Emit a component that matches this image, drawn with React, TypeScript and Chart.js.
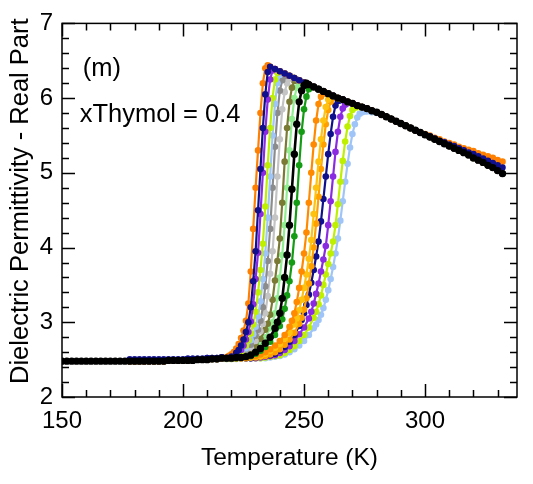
import React, { useEffect, useRef } from 'react';
import { Chart, registerables } from 'chart.js';

Chart.register(...registerables);

// ---------- shared baseline (low-temperature plateau) ----------
const BASE_T = [150, 152, 154, 156, 158, 160, 162, 164, 166, 168, 170, 172, 174, 176, 178, 180, 182, 184, 186, 188, 190, 192, 194, 196, 198, 200, 202, 204, 206, 208, 210, 212, 214, 216];
const BASE_V = [2.48, 2.48, 2.48, 2.48, 2.48, 2.48, 2.48, 2.48, 2.48, 2.48, 2.48, 2.48, 2.48, 2.48, 2.48, 2.48, 2.48, 2.48, 2.48, 2.48, 2.48, 2.48, 2.49, 2.49, 2.49, 2.49, 2.49, 2.49, 2.5, 2.5, 2.5, 2.51, 2.51, 2.52];
const BASE_V_HI = [2.5, 2.5, 2.5, 2.5, 2.5, 2.5, 2.5, 2.5, 2.5, 2.5, 2.5, 2.5, 2.5, 2.5, 2.5, 2.5, 2.5, 2.5, 2.5, 2.5, 2.5, 2.5, 2.5, 2.5, 2.5, 2.5, 2.51, 2.51, 2.51, 2.51, 2.52, 2.52, 2.52, 2.53];

// ---------- shared high-temperature branch ----------
const TAIL_T = [236, 238, 240, 242, 244, 246, 248, 250, 252, 254, 256, 258, 260, 262, 264, 266, 268, 270, 272, 274, 276, 278, 280, 282, 284, 286, 288, 290, 292, 294, 296, 298];
const TAIL_V = [6.42, 6.39, 6.36, 6.33, 6.3, 6.27, 6.24, 6.21, 6.18, 6.15, 6.12, 6.09, 6.06, 6.03, 6.0, 5.98, 5.95, 5.93, 5.9, 5.88, 5.86, 5.83, 5.81, 5.78, 5.75, 5.72, 5.69, 5.66, 5.63, 5.6, 5.57, 5.54];

const END_T = [300, 302, 304, 306, 308, 310, 312, 314, 316, 318, 320, 322, 324, 326, 328, 330, 332];
const END_V_BLACK = [5.51, 5.48, 5.45, 5.42, 5.39, 5.36, 5.33, 5.3, 5.27, 5.24, 5.2, 5.17, 5.14, 5.1, 5.07, 5.03, 4.99];
const END_V_ORANGE = [5.52, 5.5, 5.47, 5.45, 5.42, 5.4, 5.38, 5.35, 5.33, 5.31, 5.29, 5.26, 5.24, 5.22, 5.2, 5.17, 5.15];
const END_V_NAVY = [5.51, 5.49, 5.46, 5.43, 5.41, 5.38, 5.36, 5.33, 5.3, 5.27, 5.25, 5.22, 5.19, 5.16, 5.13, 5.1, 5.07];

// ---------- transitions of each series ----------
const S01_T = [218, 219, 220, 221, 222, 223, 224, 225, 226, 227, 228, 229, 230, 231, 232, 233, 234, 235];
const S01_V = [2.53, 2.55, 2.57, 2.6, 2.65, 2.71, 2.79, 2.89, 3.02, 3.25, 3.68, 4.25, 4.8, 5.3, 5.8, 6.2, 6.4, 6.44];

const S02_T = [218, 220, 222, 223, 224, 225, 226, 227, 228, 229, 230, 231, 232, 233, 234, 235];
const S02_V = [2.52, 2.54, 2.59, 2.63, 2.69, 2.77, 2.87, 3.0, 3.2, 3.55, 3.95, 4.5, 5.05, 5.6, 6.05, 6.35];

const S03_T = [218, 220, 222, 224, 225, 226, 227, 228, 229, 230, 231, 232, 233, 234, 235, 236, 237];
const S03_V = [2.52, 2.53, 2.57, 2.63, 2.69, 2.77, 2.87, 3.01, 3.24, 3.58, 3.93, 4.45, 5.0, 5.55, 5.98, 6.25, 6.37];

const S04_T = [218, 220, 222, 224, 226, 227, 228, 229, 230, 231, 232, 233, 234, 235, 236, 237, 238, 239];
const S04_V = [2.52, 2.53, 2.55, 2.6, 2.69, 2.76, 2.85, 2.97, 3.14, 3.4, 3.7, 4.05, 4.55, 5.1, 5.6, 6.0, 6.25, 6.34];

const S05_T = [218, 220, 222, 224, 226, 228, 229, 230, 231, 232, 233, 234, 235, 236, 237, 238, 239, 240, 241];
const S05_V = [2.52, 2.53, 2.54, 2.58, 2.65, 2.76, 2.84, 2.94, 3.08, 3.28, 3.58, 3.92, 4.4, 4.95, 5.5, 5.92, 6.2, 6.31, 6.34];

const S06_T = [218, 220, 222, 224, 226, 228, 230, 231, 232, 233, 234, 235, 236, 237, 238, 239, 240, 241, 242, 243];
const S06_V = [2.52, 2.52, 2.53, 2.56, 2.62, 2.7, 2.82, 2.9, 3.02, 3.2, 3.48, 3.82, 4.25, 4.8, 5.35, 5.8, 6.1, 6.24, 6.29, 6.31];

const S07_T = [218, 220, 222, 224, 226, 228, 230, 232, 233, 234, 235, 236, 237, 238, 239, 240, 241, 242, 243, 244, 245];
const S07_V = [2.52, 2.52, 2.53, 2.55, 2.59, 2.66, 2.75, 2.88, 2.98, 3.12, 3.35, 3.65, 3.95, 4.4, 4.95, 5.45, 5.85, 6.08, 6.2, 6.26, 6.28];

const S08_T = [218, 220, 222, 224, 226, 228, 230, 232, 234, 235, 236, 237, 238, 239, 240, 241, 242, 243, 244, 245, 246, 247];
const S08_V = [2.52, 2.52, 2.53, 2.54, 2.57, 2.62, 2.69, 2.78, 2.9, 2.98, 3.1, 3.3, 3.56, 3.82, 4.12, 4.6, 5.15, 5.6, 5.95, 6.14, 6.23, 6.25];

const S09_T = [218, 220, 222, 224, 226, 228, 230, 232, 234, 236, 237, 238, 239, 240, 241, 242, 243, 244, 245, 246, 247, 248, 249];
const S09_V = [2.52, 2.52, 2.53, 2.54, 2.55, 2.59, 2.64, 2.71, 2.8, 2.92, 3.0, 3.12, 3.32, 3.6, 3.9, 4.3, 4.8, 5.3, 5.72, 6.0, 6.14, 6.2, 6.22];

const S10_T = [218, 220, 222, 224, 226, 228, 230, 232, 234, 236, 238, 239, 240, 241, 242, 243, 244, 245, 246, 247, 248, 249, 250, 251];
const S10_V = [2.52, 2.52, 2.53, 2.53, 2.54, 2.56, 2.6, 2.65, 2.72, 2.8, 2.92, 3.0, 3.12, 3.32, 3.6, 3.9, 4.3, 4.78, 5.25, 5.65, 5.95, 6.1, 6.17, 6.2];

const S11_T = [218, 220, 222, 224, 226, 228, 230, 232, 234, 236, 238, 240, 241, 242, 243, 244, 245, 246, 247, 248, 249, 250, 251, 252, 253];
const S11_V = [2.52, 2.52, 2.52, 2.53, 2.54, 2.55, 2.58, 2.62, 2.67, 2.74, 2.83, 2.95, 3.04, 3.18, 3.36, 3.55, 3.8, 4.15, 4.6, 5.1, 5.55, 5.85, 6.02, 6.12, 6.15];

const S12_T = [218, 220, 222, 224, 226, 228, 230, 232, 234, 236, 238, 240, 242, 244, 245, 246, 247, 248, 249, 250, 251, 252, 253, 254, 255, 256, 257, 258, 259];
const S12_V = [2.52, 2.52, 2.52, 2.53, 2.53, 2.54, 2.55, 2.57, 2.6, 2.64, 2.69, 2.75, 2.83, 2.94, 3.02, 3.12, 3.27, 3.46, 3.68, 3.92, 4.2, 4.6, 5.0, 5.38, 5.7, 5.92, 6.02, 6.06, 6.07];

const S13_T = [218, 220, 222, 224, 226, 228, 230, 232, 234, 236, 238, 240, 242, 244, 246, 247, 248, 249, 250, 251, 252, 253, 254, 255, 256, 257, 258, 259, 260, 261];
const S13_V = [2.52, 2.52, 2.52, 2.52, 2.53, 2.53, 2.54, 2.55, 2.58, 2.62, 2.66, 2.71, 2.78, 2.86, 2.97, 3.05, 3.16, 3.3, 3.46, 3.64, 3.85, 4.1, 4.45, 4.8, 5.15, 5.45, 5.7, 5.88, 5.98, 6.03];

const S14_T = [218, 220, 222, 224, 226, 228, 230, 232, 234, 236, 238, 240, 242, 244, 246, 248, 249, 250, 251, 252, 253, 254, 255, 256, 257, 258, 259, 260, 261, 262, 263];
const S14_V = [2.52, 2.52, 2.52, 2.52, 2.52, 2.53, 2.53, 2.54, 2.55, 2.57, 2.6, 2.64, 2.7, 2.77, 2.86, 2.98, 3.06, 3.17, 3.32, 3.52, 3.75, 4.0, 4.32, 4.68, 5.05, 5.38, 5.65, 5.84, 5.95, 6.0, 6.01];

const S15_T = [218, 220, 222, 224, 226, 228, 230, 232, 234, 236, 238, 240, 242, 244, 246, 248, 249, 250, 251, 252, 253, 254, 255, 256, 257, 258, 259, 260, 261, 262, 263, 264, 265];
const S15_V = [2.52, 2.52, 2.52, 2.52, 2.52, 2.52, 2.53, 2.54, 2.55, 2.56, 2.58, 2.62, 2.67, 2.74, 2.83, 2.95, 3.03, 3.12, 3.23, 3.37, 3.53, 3.7, 3.88, 4.08, 4.35, 4.65, 4.95, 5.25, 5.52, 5.75, 5.9, 5.96, 5.97];

const S16_T = [218, 220, 222, 224, 226, 228, 230, 232, 234, 236, 238, 240, 242, 244, 246, 248, 250, 252, 253, 254, 255, 256, 257, 258, 259, 260, 261, 262, 263, 264, 265, 266, 267, 268];
const S16_V = [2.52, 2.52, 2.52, 2.52, 2.52, 2.52, 2.52, 2.53, 2.54, 2.55, 2.56, 2.59, 2.63, 2.68, 2.75, 2.84, 2.93, 3.05, 3.14, 3.25, 3.38, 3.52, 3.68, 3.84, 4.02, 4.3, 4.62, 4.95, 5.28, 5.55, 5.75, 5.86, 5.91, 5.93];

const S17_T = [218, 220, 222, 224, 226, 228, 230, 232, 234, 236, 238, 240, 242, 244, 246, 248, 250, 252, 254, 255, 256, 257, 258, 259, 260, 261, 262, 263, 264, 265, 266, 267, 268, 269, 270, 271, 272, 273];
const S17_V = [2.51, 2.51, 2.52, 2.52, 2.52, 2.52, 2.52, 2.52, 2.53, 2.54, 2.55, 2.56, 2.59, 2.63, 2.68, 2.75, 2.83, 2.93, 3.06, 3.14, 3.24, 3.36, 3.5, 3.64, 3.78, 3.92, 4.08, 4.3, 4.58, 4.88, 5.16, 5.42, 5.62, 5.76, 5.84, 5.87, 5.88, 5.88];

const S18_T = [218, 220, 222, 224, 226, 228, 230, 232, 234, 236, 238, 240, 242, 244, 246, 248, 250, 252, 254, 255, 256, 257, 258, 259, 260, 261, 262, 263, 264, 265, 266, 267, 268, 269, 270, 271, 272, 273, 274, 275, 276, 278, 280];
const S18_V = [2.51, 2.51, 2.51, 2.52, 2.52, 2.52, 2.52, 2.52, 2.52, 2.53, 2.54, 2.55, 2.57, 2.6, 2.64, 2.69, 2.75, 2.83, 2.92, 2.97, 3.03, 3.1, 3.19, 3.3, 3.43, 3.58, 3.74, 3.92, 4.12, 4.36, 4.62, 4.88, 5.12, 5.34, 5.52, 5.65, 5.74, 5.79, 5.81, 5.82, 5.82, 5.81, 5.8];

// ---------- axes / ticks / annotations ----------
const X_TICK_LABELS = [150, 200, 250, 300];
const X_MINOR_TICKS = [150, 160, 170, 180, 190, 200, 210, 220, 230, 240, 250, 260, 270, 280, 290, 300, 310, 320, 330];
const Y_TICK_LABELS = [2, 3, 4, 5, 6, 7];
const Y_MINOR_TICKS = [2, 2.2, 2.4, 2.6, 2.8, 3, 3.2, 3.4, 3.6, 3.8, 4, 4.2, 4.4, 4.6, 4.8, 5, 5.2, 5.4, 5.6, 5.8, 6, 6.2, 6.4, 6.6, 6.8, 7];
const Y_TITLE = 'Dielectric Permittivity - Real Part';
const X_TITLE = 'Temperature (K)';
const ANNOT_TEXT = ['(m)', 'xThymol = 0.4'];
const ANNOT_X = [158.6, 157.3];
const ANNOT_Y = [6.39, 5.78];

const FONT = '"Liberation Sans", Arial, Helvetica, sans-serif';

type Pt = { x: number; y: number };

function buildPoints(baseFrom: number, baseV: number[], t: number[], v: number[], endV: number[]): Pt[] {
  const pts: Pt[] = [];
  BASE_T.forEach((x, i) => {
    if (x >= baseFrom && x < t[0]) pts.push({ x, y: baseV[i] });
  });
  t.forEach((x, i) => pts.push({ x, y: v[i] }));
  const last = t[t.length - 1];
  TAIL_T.forEach((x, i) => {
    if (x > last) pts.push({ x, y: TAIL_V[i] });
  });
  END_T.forEach((x, i) => pts.push({ x, y: endV[i] }));
  return pts;
}

const SERIES = [
  { color: '#000000', order: 0, from: 150, base: BASE_V, t: S10_T, v: S10_V, end: END_V_BLACK },
  { color: '#10108C', order: 1, from: 178, base: BASE_V_HI, t: S02_T, v: S02_V, end: END_V_NAVY },
  { color: '#FF8000', order: 2, from: 178, base: BASE_V, t: S01_T, v: S01_V, end: END_V_ORANGE },
  { color: '#8A2BE2', order: 3, from: 178, base: BASE_V, t: S03_T, v: S03_V, end: END_V_BLACK },
  { color: '#BEF000', order: 4, from: 178, base: BASE_V, t: S04_T, v: S04_V, end: END_V_BLACK },
  { color: '#9FC5F8', order: 5, from: 178, base: BASE_V, t: S05_T, v: S05_V, end: END_V_BLACK },
  { color: '#8C8C8C', order: 6, from: 178, base: BASE_V, t: S06_T, v: S06_V, end: END_V_BLACK },
  { color: '#C4C4C4', order: 7, from: 178, base: BASE_V, t: S07_T, v: S07_V, end: END_V_BLACK },
  { color: '#7A7A35', order: 8, from: 178, base: BASE_V, t: S08_T, v: S08_V, end: END_V_BLACK },
  { color: '#90EE90', order: 9, from: 178, base: BASE_V, t: S09_T, v: S09_V, end: END_V_BLACK },
  { color: '#149C14', order: 10, from: 178, base: BASE_V, t: S11_T, v: S11_V, end: END_V_BLACK },
  { color: '#FF8A00', order: 11, from: 178, base: BASE_V, t: S12_T, v: S12_V, end: END_V_BLACK },
  { color: '#FFC20E', order: 12, from: 178, base: BASE_V, t: S13_T, v: S13_V, end: END_V_BLACK },
  { color: '#FFA000', order: 13, from: 178, base: BASE_V, t: S14_T, v: S14_V, end: END_V_BLACK },
  { color: '#10108C', order: 14, from: 178, base: BASE_V_HI, t: S15_T, v: S15_V, end: END_V_BLACK },
  { color: '#8A2BE2', order: 15, from: 178, base: BASE_V, t: S16_T, v: S16_V, end: END_V_BLACK },
  { color: '#BEF000', order: 16, from: 178, base: BASE_V, t: S17_T, v: S17_V, end: END_V_BLACK },
  { color: '#9FC5F8', order: 17, from: 178, base: BASE_V, t: S18_T, v: S18_V, end: END_V_BLACK },
];

const frameTicks = {
  id: 'frameTicks',
  afterDatasetsDraw(chart: any) {
    const { ctx, chartArea: a, scales } = chart;
    const x = scales.x;
    const y = scales.y;
    ctx.save();
    ctx.strokeStyle = '#000';
    ctx.lineWidth = 1.5;
    ctx.strokeRect(a.left, a.top, a.right - a.left, a.bottom - a.top);
    ctx.beginPath();
    X_MINOR_TICKS.forEach((v) => {
      const px = Math.round(x.getPixelForValue(v)) + 0.5;
      const len = X_TICK_LABELS.includes(v) ? 13 : 7;
      ctx.moveTo(px, a.bottom);
      ctx.lineTo(px, a.bottom - len);
      ctx.moveTo(px, a.top);
      ctx.lineTo(px, a.top + len);
    });
    Y_MINOR_TICKS.forEach((v) => {
      const py = Math.round(y.getPixelForValue(v)) + 0.5;
      const len = Y_TICK_LABELS.includes(v) ? 13 : 7;
      ctx.moveTo(a.left, py);
      ctx.lineTo(a.left + len, py);
      ctx.moveTo(a.right, py);
      ctx.lineTo(a.right - len, py);
    });
    ctx.stroke();
    ctx.fillStyle = '#000';
    ctx.font = '25.5px ' + FONT;
    ctx.textBaseline = 'middle';
    ctx.textAlign = 'left';
    ANNOT_TEXT.forEach((txt, i) => {
      ctx.fillText(txt, x.getPixelForValue(ANNOT_X[i]), y.getPixelForValue(ANNOT_Y[i]));
    });
    // y-axis title
    ctx.save();
    ctx.translate(21, (a.top + a.bottom) / 2 - 9);
    ctx.rotate(-Math.PI / 2);
    ctx.textAlign = 'center';
    ctx.font = '25.5px ' + FONT;
    ctx.fillText(Y_TITLE, 0, 0);
    ctx.restore();
    ctx.restore();
  },
};

export default function App() {
  const ref = useRef<HTMLCanvasElement | null>(null);
  useEffect(() => {
    document.body.style.margin = '0';
    const canvas = ref.current;
    if (!canvas) return;
    const chart = new Chart(canvas, {
      type: 'line',
      data: {
        datasets: SERIES.map((s) => {
          const isBlack = s.color === '#000000';
          return {
            data: buildPoints(s.from, s.base, s.t, s.v, s.end),
            borderColor: s.color,
            backgroundColor: s.color,
            pointBackgroundColor: s.color,
            pointBorderColor: s.color,
            borderWidth: isBlack ? 2.6 : 2.2,
            pointRadius: isBlack ? 3.7 : 3.3,
            pointBorderWidth: 0,
            tension: 0,
            fill: false,
            order: s.order,
          };
        }),
      },
      options: {
        responsive: false,
        animation: false,
        devicePixelRatio: 1,
        layout: { padding: { left: 0, right: 16, top: 17, bottom: 0 } },
        plugins: { legend: { display: false }, tooltip: { enabled: false } },
        scales: {
          x: {
            type: 'linear',
            min: 150,
            max: 338,
            grid: { display: false, drawTicks: false },
            border: { display: false },
            afterBuildTicks: (scale: any) => {
              scale.ticks = X_TICK_LABELS.map((v) => ({ value: v }));
            },
            afterFit: (scale: any) => {
              scale.height = 87;
            },
            ticks: { color: '#000', font: { size: 24, family: FONT }, padding: 10, maxRotation: 0, autoSkip: false },
            title: {
              display: true,
              text: X_TITLE,
              color: '#000',
              font: { size: 24.5, family: FONT },
              padding: { top: 0, bottom: 11 },
            },
          },
          y: {
            type: 'linear',
            min: 2,
            max: 7,
            grid: { display: false, drawTicks: false },
            border: { display: false },
            afterBuildTicks: (scale: any) => {
              scale.ticks = Y_TICK_LABELS.map((v) => ({ value: v }));
            },
            afterFit: (scale: any) => {
              scale.width = 62;
            },
            ticks: { color: '#000', font: { size: 24, family: FONT }, padding: 9 },
            title: { display: false },
          },
        },
      },
      plugins: [frameTicks],
    });
    return () => chart.destroy();
  }, []);
  return (
    <div style={{ width: 533, height: 484 }}>
      <canvas ref={ref} width={533} height={484} />
    </div>
  );
}
